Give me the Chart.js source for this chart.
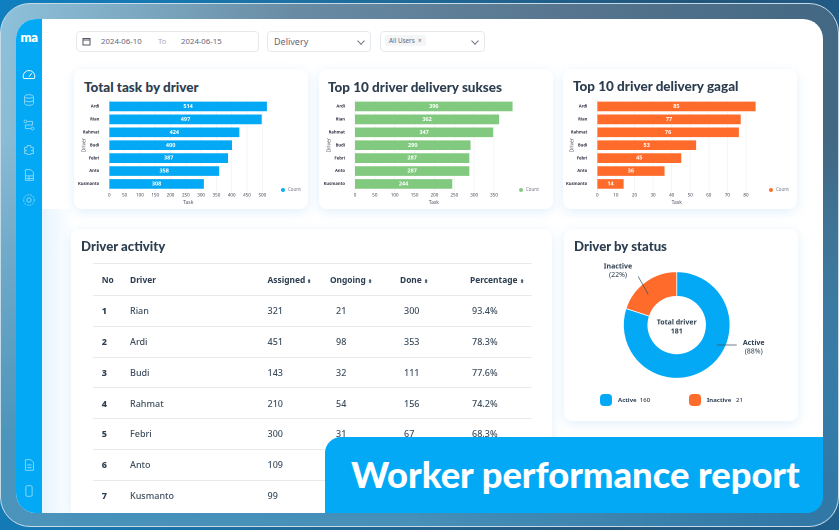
<!DOCTYPE html>
<html>
<head>
<meta charset="utf-8">
<script src="https://cdn.jsdelivr.net/npm/chart.js@4"></script>
<style>
* { box-sizing: border-box; }
html, body { margin: 0; padding: 0; }
body { width: 839px; height: 530px; overflow: hidden; position: relative; font-family: "Noto Sans", sans-serif; color: #2c3e50;
  background: linear-gradient(100deg, #0f7fc0 0%, #1f6f9f 35%, #23557a 75%, #1f5f8c 100%); }
.frame { position: absolute; left: 0; top: 3px; width: 839px; height: 524px; border-radius: 30px; border: 1px solid #c6dbe8;
  background:
    linear-gradient(to bottom, rgba(72,146,186,0) 25%, rgba(72,146,186,.95) 85%),
    linear-gradient(100deg, #8ec1db 0%, #688ba3 32%, #56748d 62%, #3c6480 100%); }
.frameRight { position: absolute; left: 420px; top: 4px; width: 418px; height: 522px; border-radius: 0 30px 30px 0;
  background: linear-gradient(to bottom, rgba(47,118,165,0) 30%, rgba(47,118,165,.9) 90%); -webkit-mask-image: linear-gradient(90deg, transparent, #000 90%); }
.app { position: absolute; left: 16px; top: 19px; width: 807px; height: 494px; border-radius: 20px; overflow: hidden; background: #fff; }
.side { position: absolute; left: 0; top: 0; width: 25.5px; height: 494px; background: #03a9f4; }
.side svg { position: absolute; left: 5px; width: 16px; height: 16px; fill: none; stroke: #8ad6f7; stroke-width: 1.1; }
.logo { position: absolute; left: 2px; top: 10px; width: 22px; text-align: center; color: #fff; font: 800 13px Lato, sans-serif; letter-spacing: -.3px; line-height: 16px; }
.pale { position: absolute; left: 25.5px; top: 190px; width: 32px; height: 304px; background: linear-gradient(90deg, #e6f4fd, #fff); }
.filter { position: absolute; top: 31px; height: 21px; border: 1px solid #e6e9ec; border-radius: 4px; background: #fff; font-size: 7.8px; line-height: 19px; color: #667; }
.filter span { position: absolute; white-space: nowrap; }
.chev { position: absolute; top: 6px; width: 6px; height: 6px; border-right: 1px solid #667; border-bottom: 1px solid #667; transform: rotate(45deg) scale(.9); }
.card { position: absolute; background: #fff; border-radius: 8px; box-shadow: 0 3px 12px rgba(3,130,220,.12); }
.card h2 { position: absolute; margin: 0; font-family: Lato, sans-serif; font-size: 13.5px; font-weight: 900; color: #2c3e50; white-space: nowrap; line-height: 18px; }
.card canvas { position: absolute; left: 0; top: 0; }
.key { position: absolute; font-size: 4.5px; color: #778; white-space: nowrap; line-height: 6px; }
.key i { display: inline-block; width: 4px; height: 4px; border-radius: 50%; margin-right: 3px; vertical-align: -0.5px; }
#driverTable { position: absolute; left: 22px; top: 34px; width: 439px; border-collapse: collapse; table-layout: fixed; font-size: 9px; }
#driverTable th, #driverTable td { padding: 0; text-align: left; border-top: 1px solid #e8eaec; white-space: nowrap; }
#driverTable th { height: 32px; font-weight: 700; font-size: 8.4px; }
#driverTable th small { font-size: 5px; }
#driverTable td { height: 30.75px; color: #3e4e5e; font-weight: 500; }
#driverTable td:first-child { font-weight: 800; color: #2c3e50; }
.swatch { position: absolute; width: 12px; height: 12px; border-radius: 4px; }
.status { position: absolute; font-size: 6px; font-weight: 700; white-space: nowrap; line-height: 8px; }
.banner { position: absolute; left: 325px; top: 437px; width: 498px; height: 76px; background: #03a9f4; border-radius: 16px 0 16px 0; color: #fff; font-family: Lato, sans-serif; font-size: 36.3px; font-weight: 900; line-height: 74px; padding-left: 26px; white-space: nowrap; }
</style>
</head>
<body>
<div class="frame"></div>
<div class="frameRight"></div>
<div class="app">
  <div class="pale"></div>
  <div class="side">
    <div class="logo">ma</div>
    <svg style="top:48px;stroke:#fff" viewBox="0 0 18 18"><path d="M3 13a6.5 6.5 0 1 1 12 0z"/><path d="M9 11l3-4"/></svg>
    <svg style="top:73px" viewBox="0 0 18 18"><ellipse cx="9" cy="5" rx="5" ry="2"/><path d="M4 5v8c0 1 2 2 5 2s5-1 5-2V5M4 9c0 1 2 2 5 2s5-1 5-2"/></svg>
    <svg style="top:98px" viewBox="0 0 18 18"><circle cx="5" cy="5" r="1.6"/><circle cx="13" cy="13" r="1.6"/><path d="M7 5h6v4H5v4h6"/></svg>
    <svg style="top:123px" viewBox="0 0 18 18"><path d="M4 6h3V4h4v2h3v3h-2v1h2v3h-3v1H7v-1H4v-3h2V9H4z"/></svg>
    <svg style="top:148px" viewBox="0 0 18 18"><path d="M5 3h6l3 3v9H5zM5 10h9M5 13h9M9 10v5"/></svg>
    <svg style="top:173px" viewBox="0 0 18 18"><circle cx="9" cy="9" r="2.5"/><circle cx="9" cy="9" r="6" stroke-dasharray="2 1.2"/></svg>
    <svg style="top:438px" viewBox="0 0 18 18"><path d="M5 3h6l3 3v9H5zM7 9h5M7 12h5"/></svg>
    <svg style="top:464px" viewBox="0 0 18 18"><rect x="5.5" y="3" width="7" height="12" rx="1.5"/></svg>
  </div>
</div>

<div class="filter" style="left:76px;width:183px">
  <svg style="position:absolute;left:5px;top:5px" width="9" height="9" viewBox="0 0 9 9" fill="none" stroke="#556"><rect x="1" y="1.5" width="7" height="6.5"/><path d="M1 3h7"/></svg>
  <span style="left:24px">2024-06-10</span><span style="left:81px;color:#aab">To</span><span style="left:104px">2024-06-15</span>
</div>
<div class="filter" style="left:267px;width:104px"><span style="left:6px;font-size:9px">Delivery</span><div class="chev" style="left:90px"></div></div>
<div class="filter" style="left:380px;width:105px">
  <span style="left:4px;top:3px;background:#f4f5f6;line-height:11px;padding:0 4px;font-size:6.3px;border-radius:2px">All Users &nbsp;×</span>
  <div class="chev" style="left:91px"></div>
</div>

<div class="card" style="left:74px;top:69px;width:234px;height:140px">
  <h2 style="left:10px;top:9px">Total task by driver</h2>
  <canvas id="taskChart"></canvas>
  <div class="key" style="left:207px;top:117px"><i style="background:#03a9f4"></i>Count</div>
</div>
<div class="card" style="left:319px;top:69px;width:234px;height:140px">
  <h2 style="left:9px;top:9px">Top 10 driver delivery sukses</h2>
  <canvas id="suksesChart"></canvas>
  <div class="key" style="left:200px;top:117px"><i style="background:#81c97f"></i>Count</div>
</div>
<div class="card" style="left:563px;top:69px;width:234px;height:140px">
  <h2 style="left:10px;top:8px">Top 10 driver delivery gagal</h2>
  <canvas id="gagalChart"></canvas>
  <div class="key" style="left:206px;top:117px"><i style="background:#ff6b2b"></i>Count</div>
</div>

<div class="card" style="left:71px;top:229px;width:481px;height:284px;border-radius:8px 8px 0 0">
  <h2 style="left:10px;top:8px;font-size:13.2px">Driver activity</h2>
  <table id="driverTable"></table>
</div>

<div class="card" style="left:564px;top:229px;width:234px;height:192px">
  <h2 style="left:10px;top:8px;font-size:13.2px">Driver by status</h2>
  <canvas id="statusChart"></canvas>
  <div class="swatch" style="left:36px;top:165px;background:#03a9f4"></div>
  <div class="status" style="left:54px;top:167px">Active &nbsp;<span style="font-weight:500">160</span></div>
  <div class="swatch" style="left:125px;top:165px;background:#ff6b2b"></div>
  <div class="status" style="left:143px;top:167px">Inactive &nbsp;&nbsp;<span style="font-weight:500">21</span></div>
</div>

<div class="banner">Worker performance report</div>

<script>
const drivers = ['Ardi', 'Rian', 'Rahmat', 'Budi', 'Febri', 'Anto', 'Kusmanto'];
const taskValues = [514, 497, 424, 400, 387, 358, 308];
const suksesValues = [396, 362, 347, 290, 287, 287, 244];
const gagalValues = [85, 77, 76, 53, 45, 36, 14];

const statusLabels = ['Active', 'Inactive'];
const statusSlices = [80, 20];

const tableHeaders = ['No', 'Driver', 'Assigned', 'Ongoing', 'Done', 'Percentage'];
const tableRows = [
    ['1', 'Rian', '321', '21', '300', '93.4%'],
    ['2', 'Ardi', '451', '98', '353', '78.3%'],
    ['3', 'Budi', '143', '32', '111', '77.6%'],
    ['4', 'Rahmat', '210', '54', '156', '74.2%'],
    ['5', 'Febri', '300', '31', '67', '68.3%'],
    ['6', 'Anto', '109', '', '', ''],
    ['7', 'Kusmanto', '99', '', '', '']
];

const chartFont = '"Noto Sans", sans-serif';

// Count written in the middle of each bar
const barValues = {
    id: 'barValues',
    afterDatasetsDraw(chart) {
        const ctx = chart.ctx;
        ctx.save();
        ctx.font = '700 5.5px ' + chartFont;
        ctx.fillStyle = '#fff';
        ctx.textAlign = 'center';
        ctx.textBaseline = 'middle';
        chart.getDatasetMeta(0).data.forEach((bar, i) => {
            const p = bar.getCenterPoint();
            ctx.fillText(chart.data.datasets[0].data[i], p.x, p.y);
        });
        ctx.restore();
    }
};

const initBarChart = (id, values, color, max, step, axisWidth, paddingRight, titleOffset) => {
    const canvas = document.getElementById(id);
    canvas.width = 234;
    canvas.height = 140;
    return new Chart(canvas, {
        type: 'bar',
        data: {
            labels: drivers,
            datasets: [{ label: 'Count', data: values, backgroundColor: color, barThickness: 9 }]
        },
        options: {
            indexAxis: 'y',
            responsive: false,
            animation: false,
            devicePixelRatio: 2,
            layout: { padding: { top: 31, right: paddingRight, bottom: 0, left: 0 } },
            plugins: { legend: { display: false }, tooltip: { enabled: false } },
            scales: {
                x: {
                    min: 0,
                    max: max,
                    grid: { color: '#eceef0', lineWidth: 0.6, tickLength: 2 },
                    border: { display: false },
                    ticks: { stepSize: step, includeBounds: false, maxRotation: 0, autoSkip: false, padding: 0, font: { size: 4.5, family: chartFont }, color: '#445' },
                    title: { display: true, text: 'Task', font: { size: 5, family: chartFont }, color: '#556', padding: { top: 0, bottom: 3.5 } },
                    afterFit: scale => { scale.height = 18.6; }
                },
                y: {
                    grid: { display: false },
                    border: { color: '#eceef0' },
                    ticks: { padding: 2, autoSkip: false, font: { size: 4.2, weight: '700', family: chartFont }, color: '#334' },
                    title: { display: true, text: 'Driver', font: { size: 5, family: chartFont }, color: '#556', padding: { top: titleOffset, bottom: 0 } },
                    afterFit: scale => { scale.width = axisWidth; }
                }
            }
        },
        plugins: [barValues]
    });
};

// Hole caption and the two leader lines of the doughnut
const statusNotes = {
    id: 'statusNotes',
    afterDraw(chart) {
        const arc = chart.getDatasetMeta(0).data[0];
        const cx = arc.x, cy = arc.y;
        const ctx = chart.ctx;
        ctx.save();
        ctx.strokeStyle = '#3f5566';
        ctx.lineWidth = 0.7;
        ctx.beginPath();
        ctx.moveTo(cx + 40, cy + 20);
        ctx.lineTo(cx + 60, cy + 20);
        ctx.moveTo(cx - 28.5, cy - 30.7);
        ctx.lineTo(cx - 38.5, cy - 48.5);
        ctx.stroke();

        ctx.fillStyle = '#2c3e50';
        ctx.textAlign = 'center';
        ctx.textBaseline = 'middle';
        ctx.font = '700 7px ' + chartFont;
        ctx.fillText('Total driver', cx, cy - 2.3);
        ctx.fillText('181', cx, cy + 6.3);
        ctx.fillText(statusLabels[0], cx + 77, cy + 18);
        ctx.fillText(statusLabels[1], cx - 58.7, cy - 58.7);
        ctx.font = '400 7px ' + chartFont;
        ctx.fillText('(88%)', cx + 77, cy + 26.7);
        ctx.fillText('(22%)', cx - 58.7, cy - 50);
        ctx.restore();
    }
};

const initStatusChart = () => {
    const canvas = document.getElementById('statusChart');
    canvas.width = 234;
    canvas.height = 192;
    return new Chart(canvas, {
        type: 'doughnut',
        data: {
            labels: statusLabels,
            datasets: [{ data: statusSlices, backgroundColor: ['#03a9f4', '#ff6b2b'], borderColor: '#fff', borderWidth: 0.8 }]
        },
        options: {
            responsive: false,
            animation: false,
            devicePixelRatio: 2,
            cutout: '54%',
            layout: { padding: { top: 42.3, right: 8.6, bottom: 42.3, left: 0 } },
            plugins: { legend: { display: false }, tooltip: { enabled: false } }
        },
        plugins: [statusNotes]
    });
};

const buildTable = () => {
    const widths = [37, 137.5, 62.5, 70, 70, 62];
    const headPad = [8.7, 0, 0, 0, 0, 0];
    const cellPad = [8.7, 0, 0, 6, 4, 2];
    const table = document.getElementById('driverTable');
    let html = '<colgroup>' + widths.map(w => `<col style="width:${w}px">`).join('') + '</colgroup>';
    html += '<tr>' + tableHeaders.map((h, i) => `<th style="padding-left:${headPad[i]}px">${h}${i > 1 ? ' <small>⬍</small>' : ''}</th>`).join('') + '</tr>';
    tableRows.forEach(row => {
        html += '<tr>' + row.map((c, i) => `<td style="padding-left:${cellPad[i]}px">${c}</td>`).join('') + '</tr>';
    });
    table.innerHTML = html;
};

buildTable();
initBarChart('taskChart', taskValues, '#03a9f4', 516, 50, 35.3, 40.8, 7);
initBarChart('suksesChart', suksesValues, '#81c97f', 397, 50, 36, 40.3, 7.3);
initBarChart('gagalChart', gagalValues, '#ff6b2b', 85.5, 10, 34.3, 40.8, 6);
initStatusChart();
</script>
</body>
</html>
